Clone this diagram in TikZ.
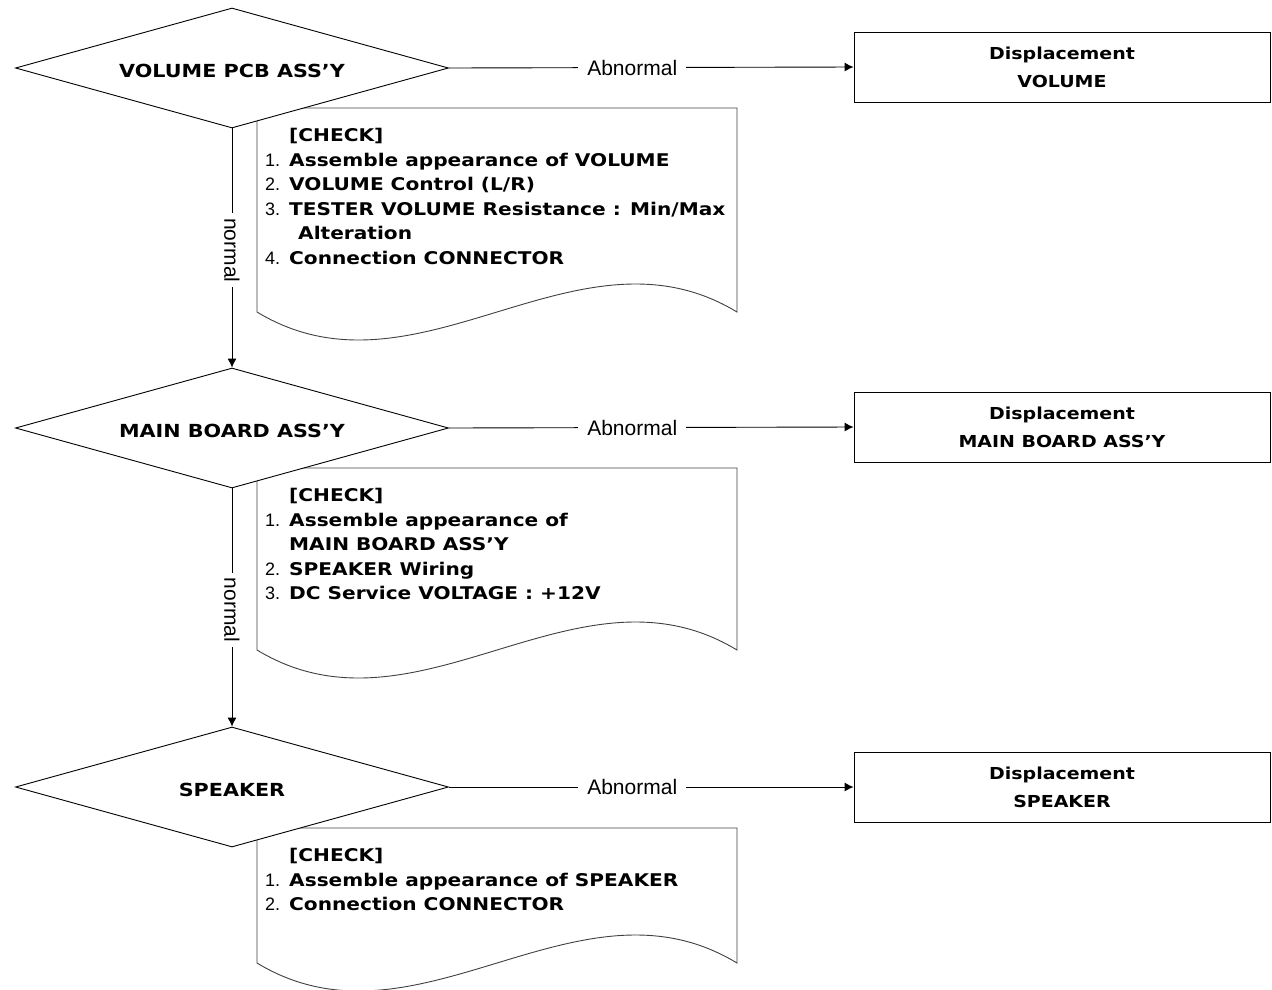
\documentclass[tikz,border=0pt]{standalone}
\usepackage{fontspec}
\setmainfont{Liberation Sans}
\newfontfamily\widefont[FakeStretch=1.15]{DejaVu Sans}
\usetikzlibrary{shapes.geometric, arrows.meta, positioning}
\tikzset{
  decide/.style={
    diamond, draw=black, fill=white, line width=0.9pt, shape aspect=3.6,
    minimum width=433pt, minimum height=120pt, inner sep=1pt,
    font=\widefont\bfseries\fontsize{18}{20}\selectfont,
    execute at begin node=\rule{0pt}{19pt},
  },
  result/.style={
    rectangle, draw=black, fill=white, line width=0.9pt,
    minimum width=416pt, minimum height=70pt,
    align=center, inner sep=0pt,
    font=\widefont\bfseries\fontsize{16.5}{28}\selectfont,
    execute at begin node=\rule{0pt}{18pt},
  },
  checkdoc/.style={
    draw=black!75, fill=white, line width=0.9pt,
  },
  checktext/.style={
    anchor=north west, align=left, inner sep=0pt,
    font=\widefont\bfseries\fontsize{17.5}{24.5}\selectfont,
  },
  arrow/.style={
    -{Latex[length=9pt,width=9pt]}, line width=0.9pt, draw=black,
  },
  ablabel/.style={
    fill=white, inner sep=9pt, font=\fontsize{21}{24}\selectfont,
  },
  nolabel/.style={
    fill=white, inner sep=5pt, rotate=-90, font=\fontsize{21}{24}\selectfont,
  }
}
\newcommand\chkno[1]{{\normalfont\fontsize{18}{24.5}\selectfont #1.}\hspace{9pt}}

\begin{document}
\begin{tikzpicture}[x=1pt, y=-1pt]

  \useasboundingbox (0,0) rectangle (1272,989);

  % check sheets
  \draw[checkdoc] (257,108) -- (737,108) -- (737,312)
    .. controls (577,215) and (417,409) .. (257,312) -- cycle;
  \draw[checkdoc] (257,468) -- (737,468) -- (737,650)
    .. controls (577,553) and (417,747) .. (257,650) -- cycle;
  \draw[checkdoc] (257,828) -- (737,828) -- (737,963)
    .. controls (577,866) and (417,1060) .. (257,963) -- cycle;

  \node[checktext] (chk1) at (265,128) {\hspace*{24pt}[CHECK]\\
    \chkno{1}Assemble appearance of VOLUME\\
    \chkno{2}VOLUME Control (L/R)\\
    \chkno{3}TESTER VOLUME Resistance : Min/Max\\
    \hspace*{33pt}Alteration\\
    \chkno{4}Connection CONNECTOR};
  \node[checktext] (chk2) at (265,488) {\hspace*{24pt}[CHECK]\\
    \chkno{1}Assemble appearance of\\
    \hspace*{24pt}MAIN BOARD ASS’Y\\
    \chkno{2}SPEAKER Wiring\\
    \chkno{3}DC Service VOLTAGE : +12V};
  \node[checktext] (chk3) at (265,848) {\hspace*{24pt}[CHECK]\\
    \chkno{1}Assemble appearance of SPEAKER\\
    \chkno{2}Connection CONNECTOR};

  % decisions
  \node[decide] (vol)  at (232,68)  {VOLUME PCB ASS’Y};
  \node[decide] (main) at (232,428) {MAIN BOARD ASS’Y};
  \node[decide] (spk)  at (232,787) {SPEAKER};

  % replacements
  \node[result] (dvol)  at (1062,67)  {Displacement\\VOLUME};
  \node[result] (dmain) at (1062,427) {Displacement\\MAIN BOARD ASS’Y};
  \node[result] (dspk)  at (1062,787) {Displacement\\SPEAKER};

  \draw[arrow] (vol.east)  -- node[ablabel, pos=0.453] {Abnormal} (dvol.west);
  \draw[arrow] (main.east) -- node[ablabel, pos=0.453] {Abnormal} (dmain.west);
  \draw[arrow] (spk.east)  -- node[ablabel, pos=0.453] {Abnormal} (dspk.west);

  \draw[arrow] (vol.south)  -- node[nolabel, pos=0.51] {normal} (main.north);
  \draw[arrow] (main.south) -- node[nolabel, pos=0.51] {normal} (spk.north);

\end{tikzpicture}
\end{document}
